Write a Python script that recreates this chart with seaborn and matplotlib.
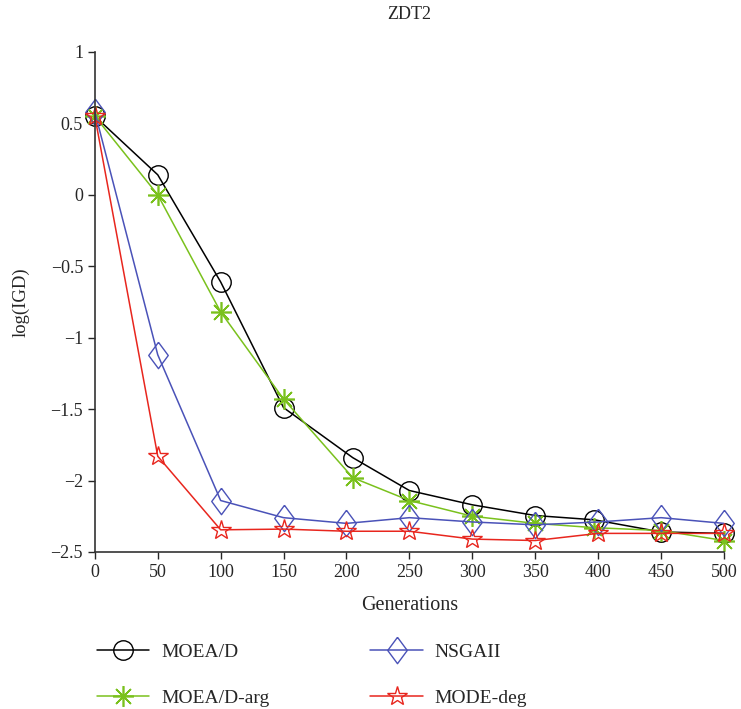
import numpy as np
import pandas as pd
import seaborn as sns
import matplotlib.pyplot as plt
from matplotlib.lines import Line2D

# data
gens = [0, 50, 100, 150, 200, 250, 300, 350, 400, 450, 500]
gens_moead = [0, 50, 100, 150, 205, 250, 300, 350, 397, 450, 500]
moead = [0.55, 0.14, -0.61, -1.49, -1.84, -2.07, -2.17, -2.245, -2.275, -2.36, -2.37]
moead_arg = [0.55, 0.0, -0.82, -1.43, -1.98, -2.14, -2.25, -2.30, -2.33, -2.35, -2.42]
nsgaii = [0.58, -1.12, -2.14, -2.26, -2.30, -2.26, -2.29, -2.31, -2.29, -2.26, -2.30]
mode_deg = [0.55, -1.83, -2.345, -2.34, -2.355, -2.355, -2.41, -2.42, -2.37, -2.37, -2.37]

labels = ['MOEA/D', 'MOEA/D-arg', 'NSGAII', 'MODE-deg']

sns.set_style('ticks')
plt.rcParams['font.family'] = ['Liberation Serif', 'DejaVu Serif']

fig = plt.figure(figsize=(7.41, 7.09), dpi=100)
ax = fig.add_axes([0.128, 0.2215, 0.849, 0.7052])

# MATLAB-like diamond (a bit narrower than tall)
diamond = [(0, 1), (0.74, 0), (0, -1), (-0.74, 0), (0, 1)]

styles = [
    dict(color='black', marker='o', ms=14, mew=1.0),
    dict(color='#7ac11d', marker=(8, 2, 0), ms=15, mew=1.2),
    dict(color='#4a52b8', marker=diamond, ms=19, mew=1.0),
    dict(color='#e8261e', marker='*', ms=15, mew=1.0),
]
xs = [gens_moead, gens_moead, gens, gens]
ys = [moead, moead_arg, nsgaii, mode_deg]

handles = []
for x, y, lab, st in zip(xs, ys, labels, styles):
    sns.lineplot(x=x, y=y, ax=ax, color=st['color'], marker=st['marker'],
                 markersize=st['ms'], markerfacecolor='none',
                 markeredgecolor=st['color'], markeredgewidth=st['mew'],
                 linewidth=1.1, legend=False, clip_on=False)
    handles.append(Line2D([], [], color=st['color'], marker=st['marker'],
                          markersize=st['ms'], markerfacecolor='none',
                          markeredgecolor=st['color'], markeredgewidth=st['mew'],
                          linewidth=1.1, label=lab))

ax.set_xlim(0, 500)
ax.set_ylim(-2.5, 1)
ax.set_xticks(np.arange(0, 501, 50))
ax.set_yticks(np.arange(-2.5, 1.01, 0.5))
ax.set_yticklabels(['\u22122.5', '\u22122', '\u22121.5', '\u22121', '\u22120.5', '0', '0.5', '1'])
ax.tick_params(labelsize=13, direction='out', length=5, width=1)
sns.despine(ax=ax)
for s in ['left', 'bottom']:
    ax.spines[s].set_linewidth(1.2)
    ax.spines[s].set_color('#333333')

ax.set_title('ZDT2', fontsize=13, pad=24)
ax.set_xlabel('Generations', fontsize=14.5, labelpad=11)
ax.set_ylabel('log(IGD)', fontsize=13.5, labelpad=15)

fig.legend(handles=handles, loc='lower left', bbox_to_anchor=(0.107, -0.022),
           ncol=2, frameon=False, fontsize=14, handlelength=2.7,
           columnspacing=5.2, labelspacing=1.45, handletextpad=0.6)

fig.savefig('out.png', dpi=100)
